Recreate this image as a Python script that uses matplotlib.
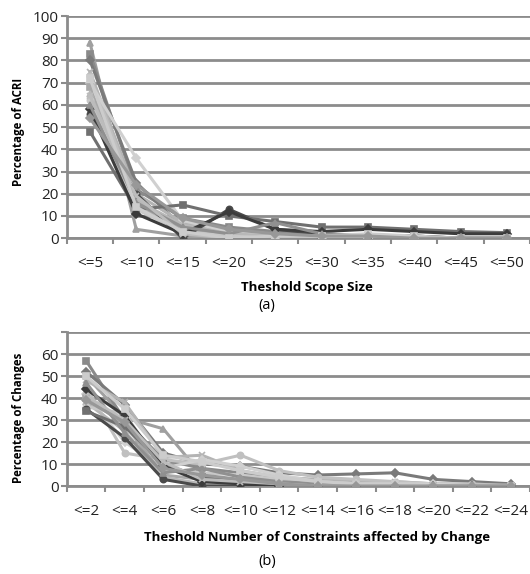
import matplotlib
matplotlib.use("Agg")
import matplotlib.pyplot as plt
import numpy as np

plt.rcParams['font.family'] = ['Open Sans', 'DejaVu Sans']

# (a) threshold scope size
cats_a = ['<=5', '<=10', '<=15', '<=20', '<=25', '<=30', '<=35', '<=40', '<=45', '<=50']
series_a = [
    [88, 4, 1, 0, 0, 0, 0, 0, 0, 0],
    [83, 22, 9, 5, 3, 1, 1, 1, 0, 0],
    [80, 25, 5, 1, 1, 0, 0, 0, 0, 0],
    [75, 20, 7, 2, 1, 0, 0, 0, 0, 0],
    [73, 18, 3, 1, 0, 0, 0, 0, 0, 0],
    [70, 36, 8, 3, 1, 1, 0, 0, 0, 0],
    [68, 15, 4, 1, 0, 0, 0, 0, 0, 0],
    [65, 17, 6, 2, 1, 0, 0, 0, 0, 0],
    [62, 13, 3, 1, 0, 0, 0, 0, 0, 0],
    [56, 20, 0, 13, 4, 2, 1, 1, 0, 0],
    [48, 13, 15, 10, 7.5, 5, 5, 4, 3, 2.5],
    [58, 11, 2, 12, 4, 3, 4, 3, 2, 2],
    [60, 16, 5, 2, 7, 2, 1, 0, 0, 0],
    [64, 19, 2, 0, 0, 0, 0, 0, 0, 0],
    [72, 14, 3, 0, 1, 1, 2, 1, 0, 0],
    [54, 24, 9, 4, 2, 1, 1, 0, 0, 0],
]

# (b) threshold number of constraints affected by change
cats_b = ['<=2', '<=4', '<=6', '<=8', '<=10', '<=12', '<=14', '<=16', '<=18', '<=20', '<=22', '<=24']
series_b = [
    [50, 31, 26, 5, 2, 1, 0, 0, 0, 0, 0, 0],
    [57, 30, 12, 8, 6, 3, 1, 1, 1, 0, 0, 0],
    [52, 37, 15, 10, 9, 6, 5, 5.5, 6, 3, 2, 1],
    [48, 38, 13, 14, 7, 4, 3, 2, 2, 1, 0.5, 0.5],
    [45, 15, 12, 10, 14, 7, 4, 3, 2, 1, 1, 0],
    [42, 20, 8, 12, 9, 5, 2, 1, 1, 1, 0, 0],
    [40, 28, 5, 3, 3, 2, 1, 1, 0, 0, 0, 0],
    [38, 25, 4, 1, 1, 0, 0, 0, 0, 0, 0, 0],
    [36, 33, 7, 6, 5, 3, 2, 1, 1, 0, 0, 0],
    [35, 22, 3, 0, 0, 0, 0, 0, 0, 0, 0, 0],
    [34, 27, 10, 4, 2, 1, 0, 0, 0, 0, 0, 0],
    [44, 32, 9, 2, 1, 0, 0, 0, 0, 0, 0, 0],
    [47, 24, 6, 8, 4, 2, 1, 0, 0, 0, 0, 0],
    [41, 30, 11, 3, 2, 1, 0, 0, 0, 0, 0, 0],
    [50, 35, 14, 11, 7, 4, 2, 1, 1, 0, 0, 0],
    [39, 29, 8, 5, 3, 1, 0, 0, 0, 0, 0, 0],
]

grays = ['#a0a0a0', '#8a8a8a', '#7a7a7a', '#b4b4b4', '#c0c0c0', '#d0d0d0', '#a8a8a8', '#b8b8b8',
         '#c8c8c8', '#4a4a4a', '#707070', '#3c3c3c', '#909090', '#bcbcbc', '#cccccc', '#989898']
markers = ['^', 's', 'D', 'x', 'o', 'D', 's', '^', 'o', 'o', 's', 'D', '^', 'x', 's', 'D']
GRID = '#8c8c8c'


def style_axes(ax, cats, ymax, yticks, ylabels):
    n = len(cats)
    ax.set_xlim(-0.5, n - 0.5)
    ax.set_ylim(0, ymax)
    ax.set_xticks(np.arange(n))
    ax.set_xticklabels(cats, fontsize=11)
    ax.set_xticks(np.arange(n + 1) - 0.5, minor=True)
    ax.tick_params(axis='x', which='major', length=0, pad=13, colors='#222222')
    ax.tick_params(axis='x', which='minor', length=4, width=1.5, color=GRID, direction='out')
    ax.set_yticks(yticks)
    ax.set_yticklabels(ylabels, fontsize=11)
    ax.tick_params(axis='y', length=4, width=1.5, pad=2, colors='#222222')
    ax.tick_params(axis='y', color=GRID)
    for t in yticks:
        ax.axhline(t, color=GRID, lw=2, zorder=0)
    for s in ['top', 'right']:
        ax.spines[s].set_visible(False)
    ax.spines['left'].set_color(GRID)
    ax.spines['left'].set_linewidth(2)
    ax.spines['bottom'].set_color(GRID)
    ax.spines['bottom'].set_linewidth(2)


fig = plt.figure(figsize=(5.30, 5.74), dpi=100)
ax1 = fig.add_axes([0.126, 0.585, 0.874, 0.387])
ax2 = fig.add_axes([0.126, 0.1533, 0.874, 0.2683])

for i, vals in enumerate(series_a):
    ax1.plot(np.arange(len(cats_a)), vals, color=grays[i], marker=markers[i], lw=2.2, ms=4.5, mew=1.2, zorder=3)
for i, vals in enumerate(series_b):
    ax2.plot(np.arange(len(cats_b)), vals, color=grays[i], marker=markers[i], lw=2.2, ms=4.5, mew=1.2, zorder=3)

style_axes(ax1, cats_a, 100, list(range(0, 101, 10)), [str(v) for v in range(0, 101, 10)])
style_axes(ax2, cats_b, 70, list(range(0, 71, 10)), [str(v) for v in range(0, 61, 10)] + [''])

fig.text(0.034, 0.770, 'Percentage of ACRI', rotation=90, ha='center', va='center',
         fontsize=8.3, fontweight='bold')
fig.text(0.034, 0.272, 'Percentage of Changes', rotation=90, ha='center', va='center',
         fontsize=8.3, fontweight='bold')
fig.text(0.579, 1 - 288 / 574, 'Theshold Scope Size', ha='center', va='center',
         fontsize=9.5, fontweight='bold')
fig.text(0.504, 1 - 305 / 574, '(a)', ha='center', va='center', fontsize=10.5)
fig.text(0.598, 1 - 538 / 574, 'Theshold Number of Constraints affected by Change', ha='center',
         va='center', fontsize=9.5, fontweight='bold')
fig.text(0.504, 1 - 562 / 574, '(b)', ha='center', va='center', fontsize=10.5)

fig.savefig('out.png', dpi=100)
